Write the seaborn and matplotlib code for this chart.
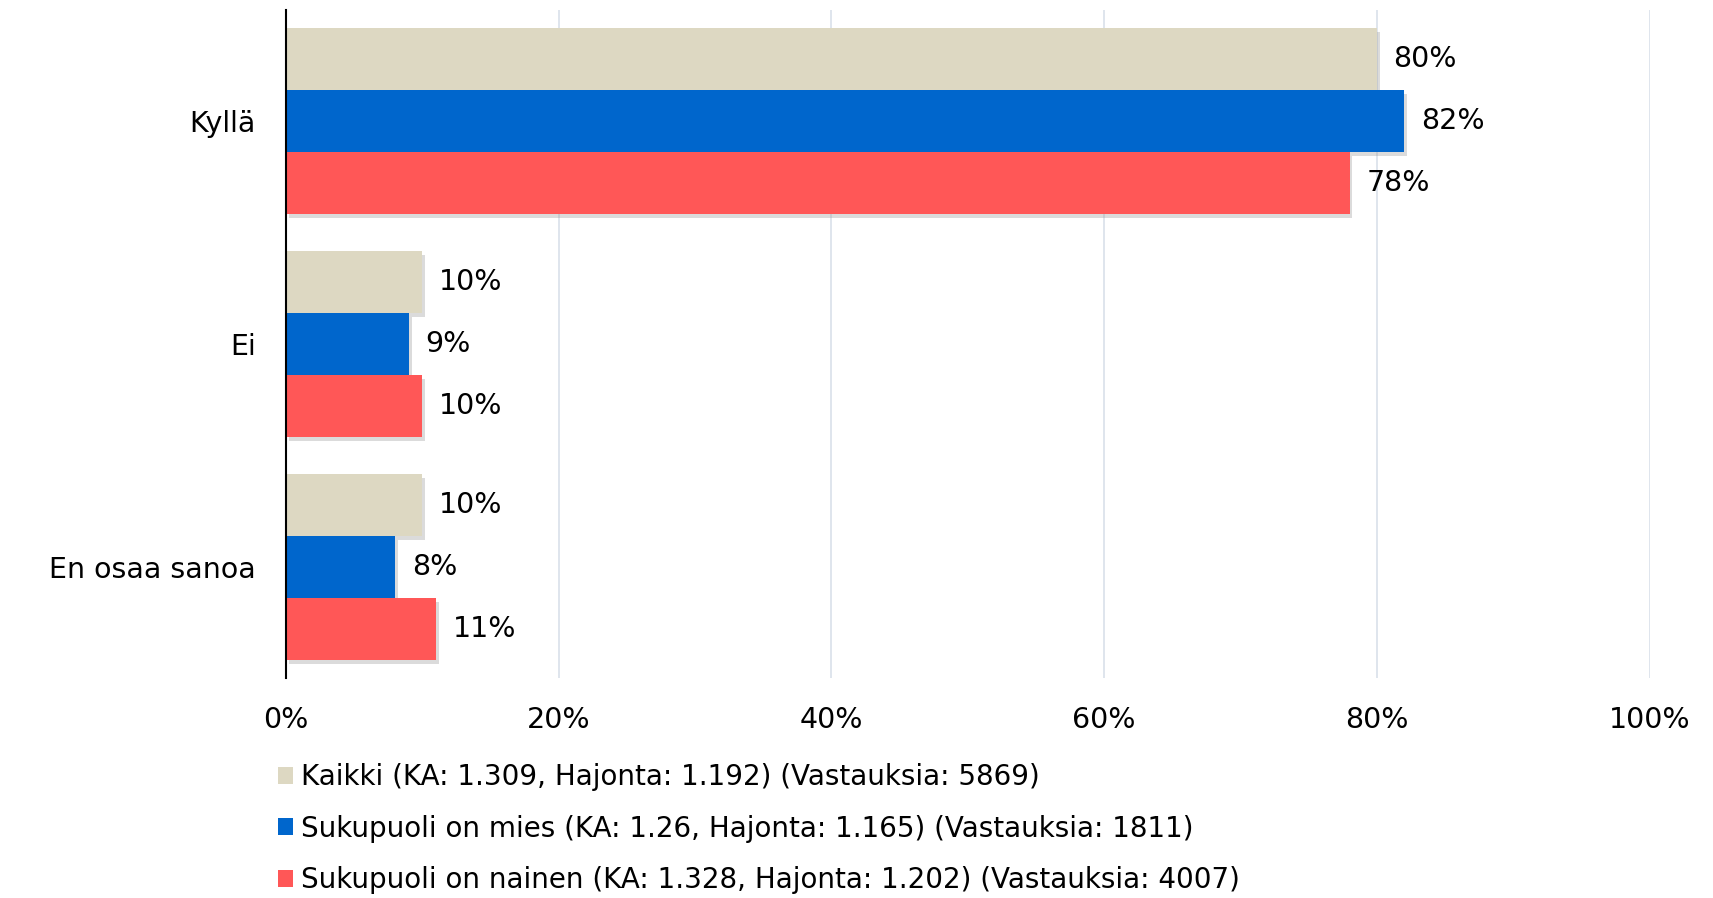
import matplotlib
matplotlib.use("Agg")
import matplotlib.pyplot as plt
import matplotlib.patheffects as pe
import seaborn as sns
import pandas as pd

categories = ["Kyllä", "Ei", "En osaa sanoa"]
groups = [
    "Kaikki (KA: 1.309, Hajonta: 1.192) (Vastauksia: 5869)",
    "Sukupuoli on mies (KA: 1.26, Hajonta: 1.165) (Vastauksia: 1811)",
    "Sukupuoli on nainen (KA: 1.328, Hajonta: 1.202) (Vastauksia: 4007)",
]
kaikki = [80, 10, 10]
mies = [82, 9, 8]
nainen = [78, 10, 11]
colors = ["#DDD8C2", "#0066CC", "#FF5757"]
x_ticks = [0, 20, 40, 60, 80, 100]

rows = []
for g, vals in zip(groups, [kaikki, mies, nainen]):
    for c, v in zip(categories, vals):
        rows.append({"Vastaus": c, "Ryhmä": g, "Osuus": v})
df = pd.DataFrame(rows)

sns.set_style("white")
plt.rcParams["font.family"] = ["DejaVu Sans"]
plt.rcParams["text.color"] = "black"
plt.rcParams["xtick.color"] = "black"
plt.rcParams["ytick.color"] = "black"

fig = plt.figure(figsize=(17.13, 8.98), dpi=100)
ax = fig.add_axes([0.167, 0.245, 0.796, 0.744])

sns.barplot(data=df, y="Vastaus", x="Osuus", hue="Ryhmä", orient="h",
            palette=colors, width=0.836, gap=0, saturation=1,
            order=categories, hue_order=groups, ax=ax, legend=True)

for bar in ax.patches:
    bar.set_path_effects([pe.SimplePatchShadow(offset=(2, -3), shadow_rgbFace="#999999", alpha=0.35),
                          pe.Normal()])
    bar.set_linewidth(0)

for cont in ax.containers:
    ax.bar_label(cont, labels=[f"{v:.0f}%" for v in cont.datavalues],
                 padding=12, fontsize=20.5, color="black")

ax.set_xlim(0, 100)
ax.set_ylim(2.5, -0.5)
ax.set_xticks(x_ticks)
ax.set_xticklabels([f"{t}%" for t in x_ticks], fontsize=20.5)
ax.tick_params(axis="x", length=0, pad=20, labelcolor="black")
ax.tick_params(axis="y", length=0, pad=22, labelsize=20.5, labelcolor="black")
ax.set_xlabel("")
ax.set_ylabel("")
ax.xaxis.grid(True, color="#DCE3EC", linewidth=1.3)
ax.set_axisbelow(True)
for s in ["top", "right", "bottom"]:
    ax.spines[s].set_visible(False)
ax.spines["left"].set_color("black")
ax.spines["left"].set_linewidth(1.5)

handles, labels = ax.get_legend_handles_labels()
for h in handles:
    h.set_path_effects([])
leg = ax.legend(handles, labels, loc="upper left", bbox_to_anchor=(0.162, 0.150),
                bbox_transform=fig.transFigure, frameon=False, fontsize=20,
                handlelength=0.55, handleheight=0.55, handletextpad=0.3,
                labelspacing=0.84, borderaxespad=0, borderpad=0)
for t in leg.get_texts():
    t.set_color("black")

fig.savefig("out.png", dpi=100)
